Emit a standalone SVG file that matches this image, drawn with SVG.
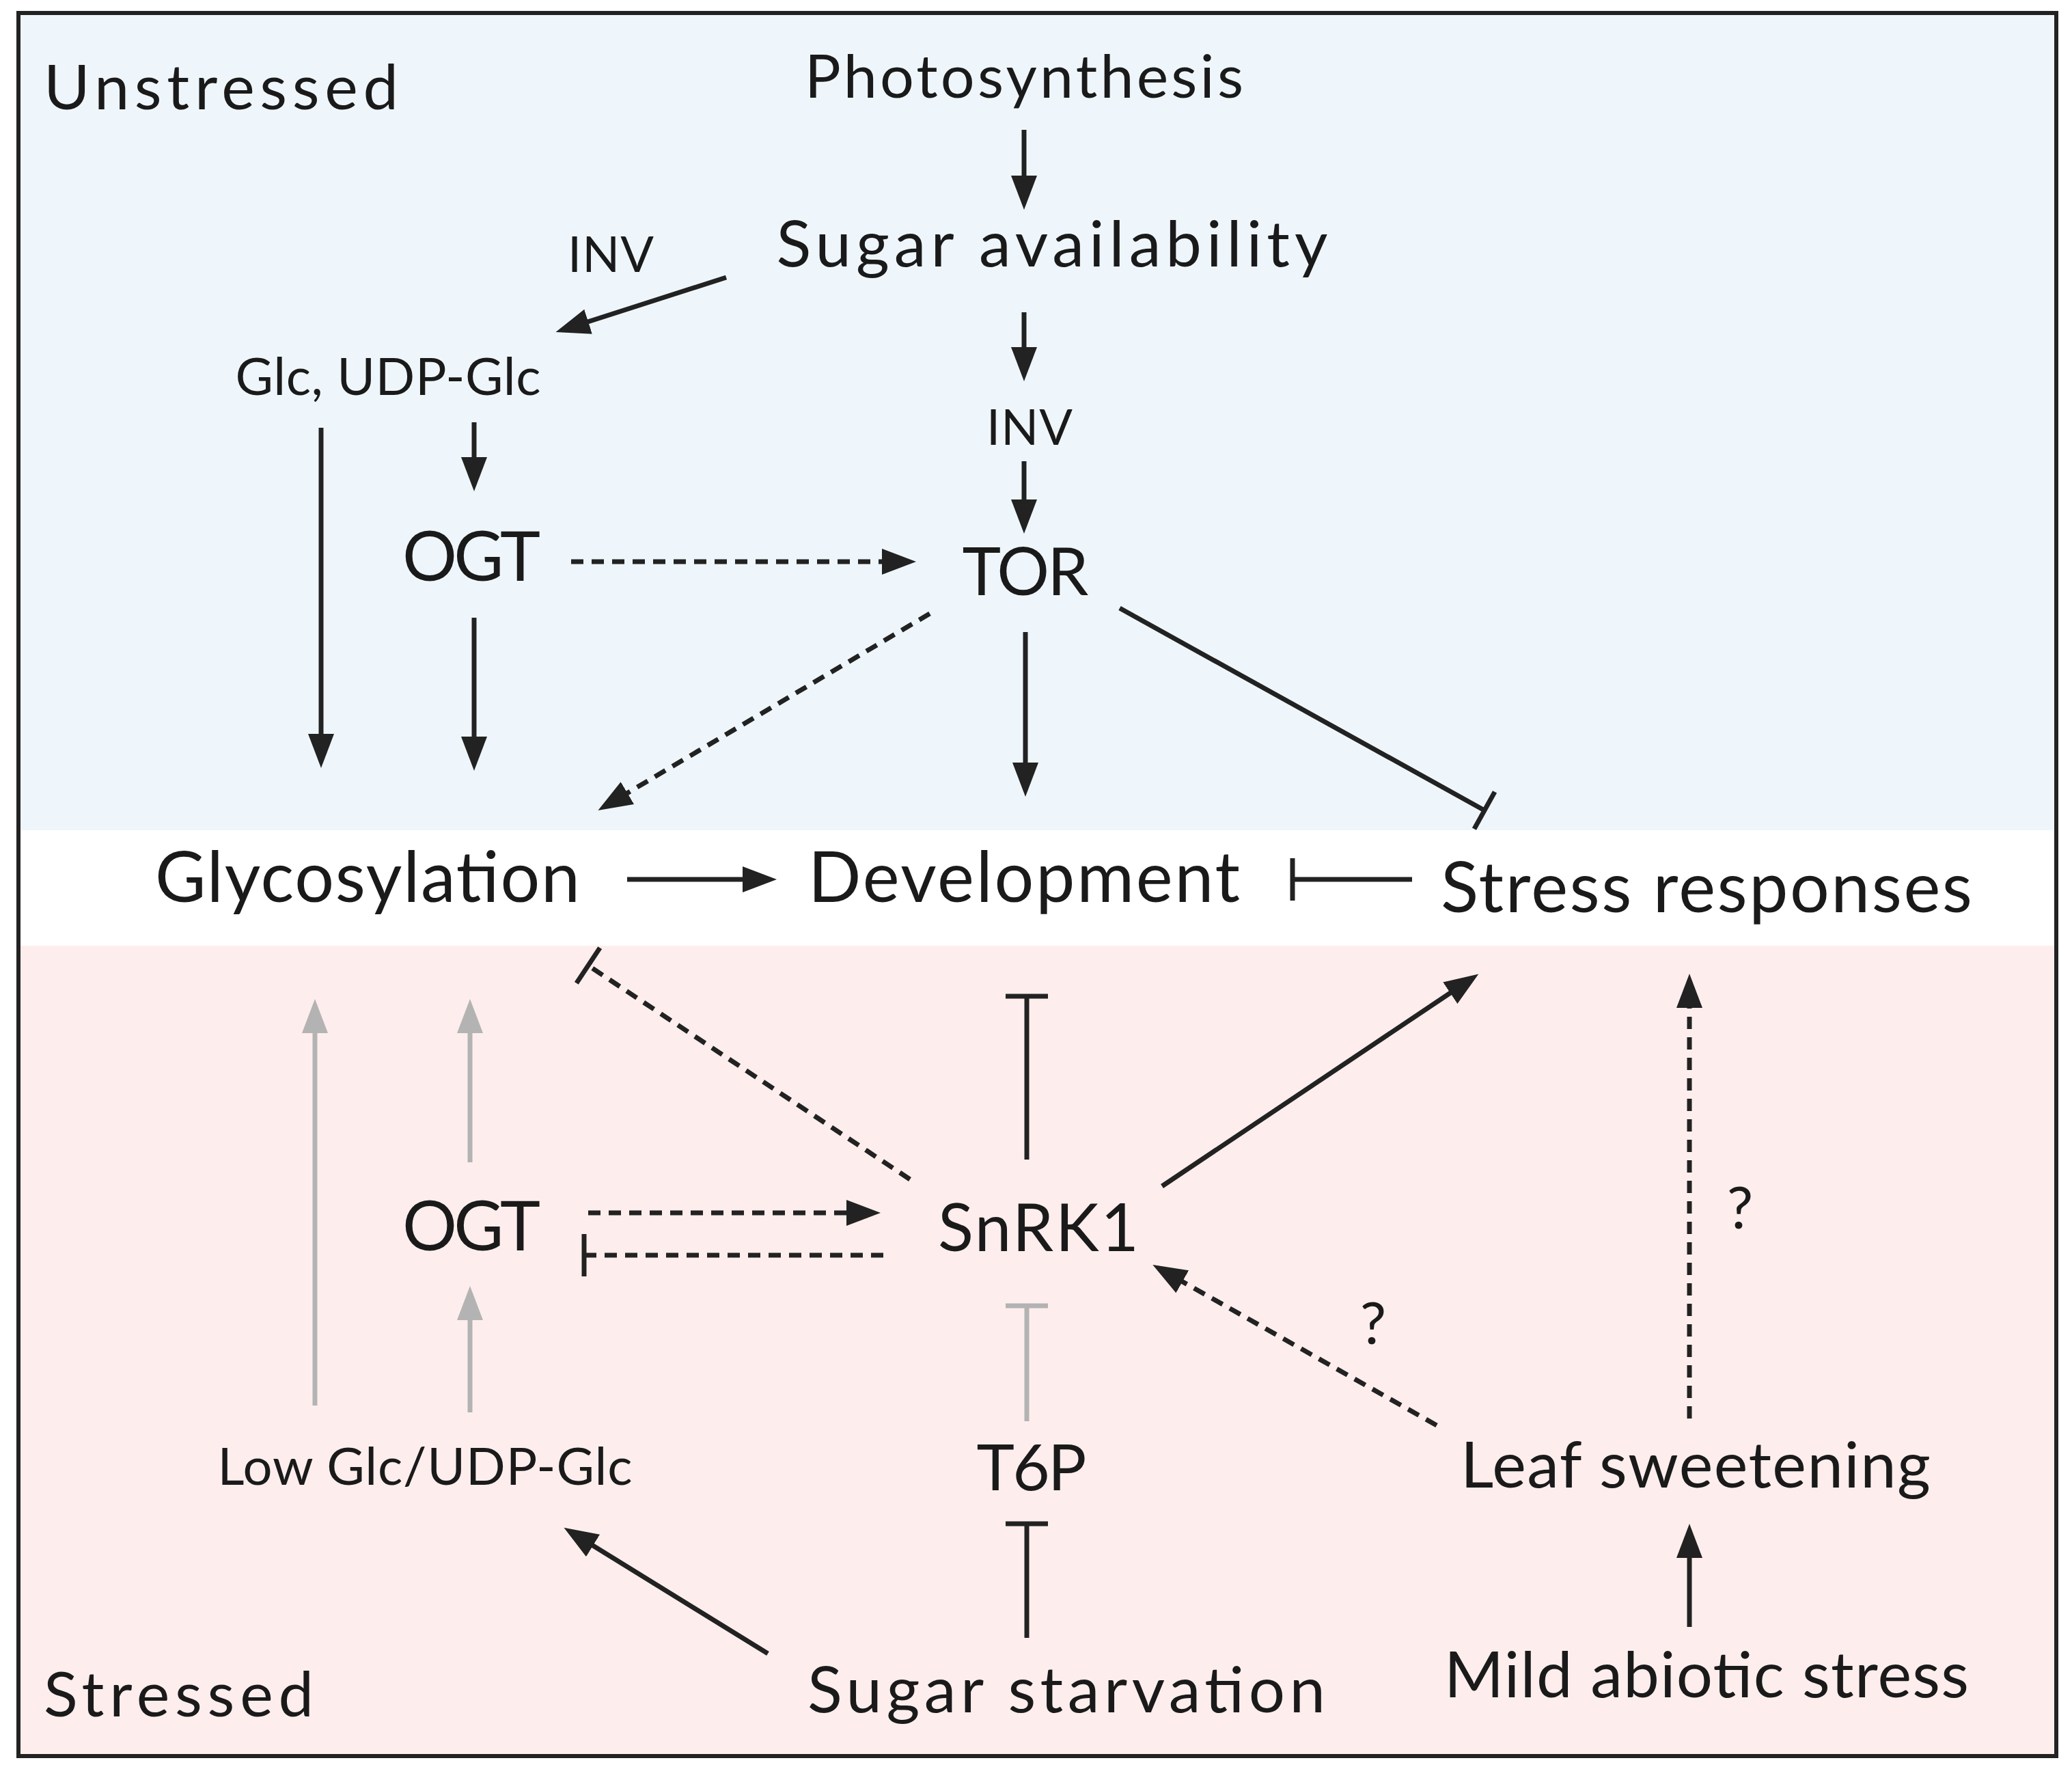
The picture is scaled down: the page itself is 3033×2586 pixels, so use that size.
<svg xmlns="http://www.w3.org/2000/svg" width="3033" height="2586" viewBox="0 0 3033 2586">
<defs>
<marker id="ah" markerUnits="userSpaceOnUse" markerWidth="60" markerHeight="50" viewBox="0 -25 60 50" refX="40" refY="0" orient="auto"><path d="M0,-19 L50,0 L0,19 Z" fill="#222"/></marker>
<marker id="ahg" markerUnits="userSpaceOnUse" markerWidth="60" markerHeight="50" viewBox="0 -25 60 50" refX="40" refY="0" orient="auto"><path d="M0,-19 L50,0 L0,19 Z" fill="#b3b3b3"/></marker>
<marker id="bar" markerUnits="userSpaceOnUse" markerWidth="20" markerHeight="70" viewBox="-10 -35 20 70" refX="0" refY="0" orient="auto"><path d="M0,-31 L0,31" stroke="#222" stroke-width="7"/></marker>
<marker id="barg" markerUnits="userSpaceOnUse" markerWidth="20" markerHeight="70" viewBox="-10 -35 20 70" refX="0" refY="0" orient="auto"><path d="M0,-31 L0,31" stroke="#b3b3b3" stroke-width="7"/></marker>
</defs>
<style>
text{font-family:Lato,"Open Sans",sans-serif;fill:#1a1a1a}
.m{text-anchor:middle}
.l{stroke:#222;stroke-width:7;fill:none}
.g{stroke:#b3b3b3;stroke-width:7;fill:none}
.d{stroke-dasharray:18 12}
.a{marker-end:url(#ah)}
.ag{marker-end:url(#ahg)}
.b{marker-end:url(#bar)}
.bg{marker-end:url(#barg)}
</style>
<rect x="0" y="0" width="3033" height="2586" fill="#fff"/>
<rect x="27" y="19" width="2983" height="1196" fill="#eef6fb"/>
<rect x="27" y="1384" width="2983" height="1186" fill="#fdeeed"/>
<rect x="27" y="19" width="2983" height="2551" fill="none" stroke="#222" stroke-width="6"/>
<g id="labels">
<text x="64" y="160" font-size="92" textLength="519" lengthAdjust="spacing">Unstressed</text>
<text x="64" y="2512" font-size="92" textLength="395" lengthAdjust="spacing">Stressed</text>
</g>
<g id="n-photo"><text class="m" x="1499" y="143" font-size="88" textLength="642" lengthAdjust="spacing">Photosynthesis</text></g>
<g id="n-sugar"><text class="m" x="1540" y="390" font-size="94" textLength="807" lengthAdjust="spacing">Sugar availability</text></g>
<g id="n-inv1"><text class="m" x="894" y="398" font-size="72" textLength="126" lengthAdjust="spacing">INV</text></g>
<g id="n-glc"><text class="m" x="568" y="578" font-size="76" textLength="447" lengthAdjust="spacing">Glc, UDP-Glc</text></g>
<g id="n-inv2"><text class="m" x="1507" y="651" font-size="72" textLength="126" lengthAdjust="spacing">INV</text></g>
<g id="n-ogt1"><text class="m" x="690" y="850" font-size="100" textLength="202" lengthAdjust="spacing">OGT</text></g>
<g id="n-tor"><text class="m" x="1501" y="871" font-size="96" textLength="185" lengthAdjust="spacing">TOR</text></g>
<g id="n-glyco"><text class="m" x="538" y="1320" font-size="102" textLength="622" lengthAdjust="spacing">Glycosylation</text></g>
<g id="n-dev"><text class="m" x="1499" y="1320" font-size="102" textLength="632" lengthAdjust="spacing">Development</text></g>
<g id="n-stress"><text class="m" x="2498" y="1335" font-size="102" textLength="778" lengthAdjust="spacing">Stress responses</text></g>
<g id="n-ogt2"><text class="m" x="690" y="1830" font-size="100" textLength="202" lengthAdjust="spacing">OGT</text></g>
<g id="n-snrk"><text class="m" x="1520" y="1831" font-size="96" textLength="294" lengthAdjust="spacing">SnRK1</text></g>
<g id="n-q1"><text class="m" x="2010" y="1967" font-size="86">?</text></g>
<g id="n-q2"><text class="m" x="2547" y="1798" font-size="86">?</text></g>
<g id="n-low"><text class="m" x="622" y="2173" font-size="76" textLength="607" lengthAdjust="spacing">Low Glc/UDP-Glc</text></g>
<g id="n-t6p"><text class="m" x="1510" y="2181" font-size="94" textLength="161" lengthAdjust="spacing">T6P</text></g>
<g id="n-leaf"><text class="m" x="2482" y="2177" font-size="94" textLength="688" lengthAdjust="spacing">Leaf sweetening</text></g>
<g id="n-starv"><text class="m" x="1561" y="2506" font-size="94" textLength="758" lengthAdjust="spacing">Sugar starvation</text></g>
<g id="n-mild"><text class="m" x="2498" y="2484" font-size="94" textLength="768" lengthAdjust="spacing">Mild abiotic stress</text></g>
<g id="connectors">
<path class="l a" d="M1499,190 L1499,297"/>
<path class="l a" d="M1499,457 L1499,548"/>
<path class="l a" d="M1499,675 L1499,771"/>
<path class="l a" d="M1063,406 L823,483"/>
<path class="l a" d="M694,618 L694,709"/>
<path class="l a" d="M470,626 L470,1114"/>
<path class="l a" d="M694,904 L694,1118"/>
<path class="l d a" d="M836,822 L1331,822"/>
<path class="l d a" d="M1361,898 L884,1181"/>
<path class="l a" d="M1501,925 L1501,1156"/>
<path class="l b" d="M1639,890 L2173,1186"/>
<path class="l a" d="M918,1287 L1127,1287"/>
<path class="l b" d="M2067,1287 L1892,1287"/>
<path class="g ag" d="M461,2057 L461,1472"/>
<path class="g ag" d="M688,1701 L688,1472"/>
<path class="g ag" d="M688,2067 L688,1892"/>
<path class="l d a" d="M861,1775 L1279,1775"/>
<path class="l d b" d="M1293,1837 L855,1837"/>
<path class="l d b" d="M1332,1726 L861,1413"/>
<path class="l b" d="M1503,1697 L1503,1458"/>
<path class="l a" d="M1701,1736 L2156,1431"/>
<path class="g bg" d="M1503,2080 L1503,1911"/>
<path class="l b" d="M1503,2397 L1503,2230"/>
<path class="l a" d="M1124,2420 L834,2241"/>
<path class="l d a" d="M2103,2086 L1696,1856"/>
<path class="l d a" d="M2473,2076 L2473,1435"/>
<path class="l a" d="M2473,2381 L2473,2240"/>
</g>
</svg>
